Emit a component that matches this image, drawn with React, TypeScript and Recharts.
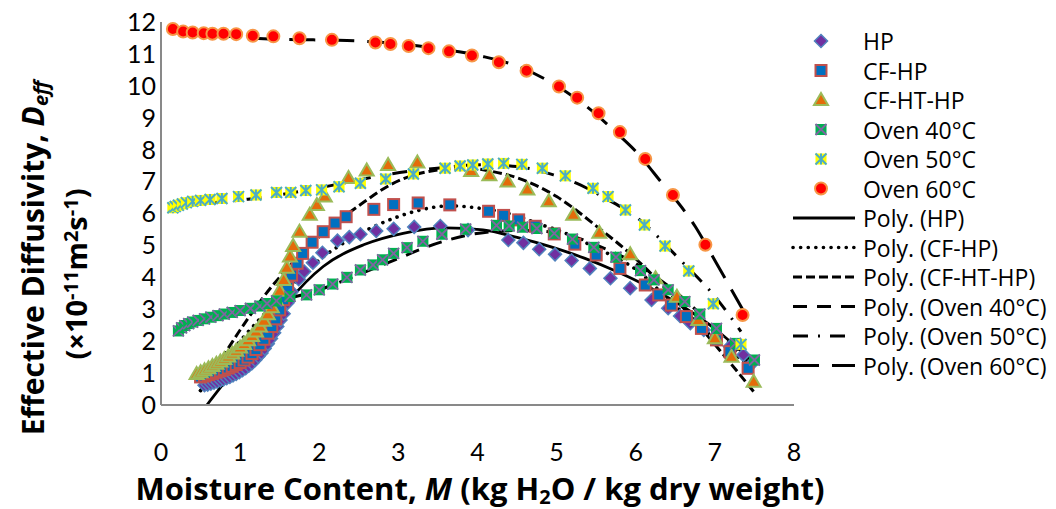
import React from 'react';
import { ComposedChart, Scatter, Line, XAxis, YAxis } from 'recharts';

const FONT = 'Lato, "Open Sans", sans-serif';
const TITLE_FONT = '"Open Sans", Lato, sans-serif';

const xTicks = [0, 1, 2, 3, 4, 5, 6, 7, 8];
const yTicks = [0, 1, 2, 3, 4, 5, 6, 7, 8, 9, 10, 11, 12];

// measured points [M, Deff]
const hpData = [
  [0.55, 0.62], [0.59, 0.64], [0.63, 0.67], [0.67, 0.7], [0.71, 0.73], [0.75, 0.77], [0.79, 0.8],
  [0.83, 0.84], [0.87, 0.88], [0.91, 0.93], [0.95, 0.97], [0.99, 1.03], [1.03, 1.09], [1.07, 1.15],
  [1.11, 1.23], [1.15, 1.31], [1.19, 1.41], [1.23, 1.52], [1.27, 1.63], [1.31, 1.77], [1.35, 1.92],
  [1.39, 2.08], [1.43, 2.26], [1.47, 2.46], [1.51, 2.66], [1.55, 2.86], [1.6, 3.2], [1.65, 3.55],
  [1.74, 3.94], [1.81, 4.18], [1.92, 4.46], [2.04, 4.77], [2.23, 5.15], [2.38, 5.26], [2.52, 5.35],
  [2.72, 5.45], [2.94, 5.52], [3.2, 5.58], [3.53, 5.61], [3.88, 5.48], [4.39, 5.17], [4.58, 5.08],
  [4.78, 4.88], [4.98, 4.72], [5.19, 4.53], [5.42, 4.28], [5.68, 3.97], [5.93, 3.66], [6.2, 3.29],
  [6.41, 3.03], [6.56, 2.79], [6.69, 2.56], [6.86, 2.35], [7.02, 2.14], [7.19, 1.83], [7.36, 1.57],
  [7.45, 1.25],
];
const cfhpData = [
  [0.5, 0.88], [0.55, 0.91], [0.6, 0.95], [0.65, 0.99], [0.7, 1.03], [0.75, 1.07], [0.8, 1.11],
  [0.85, 1.16], [0.9, 1.21], [0.95, 1.27], [1.0, 1.33], [1.05, 1.41], [1.1, 1.5], [1.15, 1.61],
  [1.2, 1.74], [1.25, 1.89], [1.3, 2.06], [1.35, 2.25], [1.4, 2.46], [1.45, 2.7], [1.5, 2.98],
  [1.55, 3.3], [1.6, 3.68], [1.65, 4.07], [1.72, 4.44], [1.79, 4.75], [1.91, 5.1], [2.05, 5.43],
  [2.2, 5.7], [2.34, 5.9], [2.69, 6.13], [2.94, 6.28], [3.25, 6.33], [3.65, 6.27], [4.14, 6.07],
  [4.33, 5.94], [4.52, 5.8], [4.73, 5.6], [4.97, 5.36], [5.23, 5.04], [5.5, 4.7], [5.8, 4.28],
  [6.12, 3.76], [6.29, 3.45], [6.45, 3.13], [6.64, 2.77], [6.83, 2.4], [7.02, 2.04], [7.19, 1.67],
  [7.42, 1.15],
];
const cfhthpData = [
  [0.45, 0.97], [0.5, 1.03], [0.55, 1.09], [0.6, 1.15], [0.65, 1.22], [0.7, 1.29], [0.75, 1.36],
  [0.8, 1.44], [0.85, 1.52], [0.9, 1.61], [0.95, 1.7], [1.0, 1.8], [1.05, 1.91], [1.1, 2.03],
  [1.15, 2.16], [1.2, 2.3], [1.25, 2.46], [1.3, 2.64], [1.35, 2.84], [1.4, 3.06], [1.45, 3.3],
  [1.5, 3.58], [1.55, 3.92], [1.59, 4.3], [1.63, 4.65], [1.67, 4.98], [1.75, 5.43], [1.88, 5.96],
  [1.97, 6.27], [2.07, 6.53], [2.37, 7.11], [2.6, 7.35], [2.87, 7.52], [3.24, 7.6], [3.92, 7.33],
  [4.15, 7.2], [4.38, 7.0], [4.63, 6.75], [4.9, 6.38], [5.21, 5.96], [5.54, 5.4], [5.93, 4.72],
  [6.25, 3.97], [6.52, 3.39], [6.79, 2.66], [7.0, 2.09], [7.21, 1.51], [7.49, 0.73],
];
const oven40Data = [
  [0.22, 2.32], [0.26, 2.42], [0.3, 2.49], [0.35, 2.55], [0.4, 2.6], [0.47, 2.65], [0.55, 2.7],
  [0.63, 2.75], [0.72, 2.8], [0.8, 2.85], [0.9, 2.9], [1.0, 2.96], [1.13, 3.03], [1.25, 3.1],
  [1.34, 3.18], [1.46, 3.26], [1.63, 3.4], [1.84, 3.45], [2.0, 3.61], [2.17, 3.79], [2.35, 4.0],
  [2.52, 4.23], [2.68, 4.39], [2.8, 4.55], [2.94, 4.75], [3.11, 4.93], [3.31, 5.13], [3.55, 5.35],
  [3.85, 5.51], [4.24, 5.63], [4.4, 5.61], [4.57, 5.57], [4.75, 5.53], [4.97, 5.38], [5.2, 5.2],
  [5.47, 4.94], [5.75, 4.63], [6.06, 4.21], [6.23, 3.92], [6.41, 3.61], [6.62, 3.24], [6.81, 2.85],
  [7.02, 2.4], [7.26, 1.93], [7.5, 1.41],
];
const oven50Data = [
  [0.15, 6.18], [0.18, 6.22], [0.22, 6.26], [0.27, 6.3], [0.32, 6.34], [0.4, 6.38], [0.5, 6.41],
  [0.62, 6.44], [0.77, 6.47], [0.98, 6.53], [1.2, 6.58], [1.46, 6.66], [1.64, 6.66], [1.83, 6.72],
  [2.03, 6.74], [2.25, 6.84], [2.52, 6.95], [2.84, 7.08], [3.19, 7.24], [3.59, 7.42], [3.78, 7.49],
  [3.94, 7.52], [4.13, 7.55], [4.33, 7.57], [4.56, 7.54], [4.82, 7.42], [5.11, 7.18], [5.46, 6.79],
  [5.65, 6.53], [5.87, 6.11], [6.11, 5.64], [6.37, 4.98], [6.67, 4.2], [6.98, 3.17], [7.33, 1.9],
];
const oven60Data = [
  [0.15, 11.78], [0.28, 11.7], [0.4, 11.67], [0.54, 11.65], [0.65, 11.63], [0.79, 11.63],
  [0.95, 11.62], [1.16, 11.57], [1.42, 11.55], [1.75, 11.49], [2.16, 11.44], [2.71, 11.36],
  [2.9, 11.31], [3.13, 11.25], [3.38, 11.18], [3.64, 11.08], [3.93, 10.95], [4.27, 10.74],
  [4.62, 10.47], [5.03, 9.98], [5.26, 9.63], [5.53, 9.14], [5.8, 8.55], [6.12, 7.71], [6.47, 6.58],
  [6.88, 5.02], [7.35, 2.82],
];

// trendlines
const polyHP = [
  [0.58, 0], [0.8, 0.7], [1.13, 1.67], [1.4, 2.5], [1.63, 3.29], [2.05, 4.34], [2.56, 5.02],
  [3.06, 5.38], [3.6, 5.55], [4.07, 5.49], [4.5, 5.25], [4.92, 4.96], [5.35, 4.6], [5.76, 4.18],
  [6.2, 3.65], [6.6, 3.08], [7.02, 2.35], [7.45, 1.41],
];
const polyCFHP = [
  [0.5, 0.45], [0.75, 1.25], [1.0, 2.0], [1.25, 2.7], [1.5, 3.35], [1.88, 4.3], [2.39, 5.2],
  [2.81, 5.72], [3.23, 6.08], [3.65, 6.24], [4.07, 6.15], [4.45, 5.96], [4.79, 5.66], [5.0, 5.49],
  [5.47, 4.96], [6.01, 4.23], [6.5, 3.1], [7.02, 2.04], [7.42, 1.25],
];
const polyCFHTHP = [
  [0.49, 0.42], [0.7, 1.2], [1.0, 2.35], [1.3, 3.4], [1.55, 4.15], [1.97, 5.2], [2.56, 6.35],
  [2.9, 6.9], [3.19, 7.2], [3.57, 7.38], [3.9, 7.42], [4.16, 7.33], [4.6, 7.03], [5.0, 6.53],
  [5.51, 5.59], [5.97, 4.65], [6.39, 3.61], [6.81, 2.45], [7.2, 1.3], [7.49, 0.42],
];
const polyOven40 = [
  [0.22, 2.35], [1.0, 2.98], [2.0, 3.61], [2.81, 4.4], [3.6, 5.15], [4.07, 5.4], [4.6, 5.47],
  [5.09, 5.36], [5.55, 4.96], [6.06, 4.34], [6.6, 3.34], [6.98, 2.45], [7.5, 1.15],
];
const polyOven50 = [
  [0.15, 6.25], [1.1, 6.45], [1.76, 6.69], [2.4, 7.0], [2.81, 7.2], [3.49, 7.42], [4.07, 7.53],
  [4.5, 7.47], [4.96, 7.21], [5.25, 6.95], [5.6, 6.5], [6.0, 5.9], [6.56, 4.55], [7.02, 3.34],
  [7.33, 2.3],
];
const polyOven60 = [
  [0.15, 11.78], [0.5, 11.65], [0.85, 11.55], [1.5, 11.46], [2.35, 11.42], [3.0, 11.32],
  [3.5, 11.17], [4.07, 10.92], [4.52, 10.6], [4.92, 10.12], [5.38, 9.35], [5.76, 8.52], [6.0, 7.95],
  [6.3, 7.05], [6.75, 5.6], [7.02, 4.44], [7.35, 3.0],
];

const toPts = (arr: number[][]) => arr.map(([x, y]) => ({ x, y }));

function Diamond({ cx, cy }: any) {
  const r = 6.5;
  return <polygon points={`${cx},${cy - r} ${cx + r},${cy} ${cx},${cy + r} ${cx - r},${cy}`} fill="#7030A0" stroke="#4F81BD" strokeWidth={1.5} />;
}
function Square({ cx, cy }: any) {
  return <rect x={cx - 5.5} y={cy - 5.5} width={11} height={11} fill="#0070C0" stroke="#C0504D" strokeWidth={2} />;
}
function Triangle({ cx, cy }: any) {
  return <polygon points={`${cx},${cy - 7} ${cx + 7},${cy + 5} ${cx - 7},${cy + 5}`} fill="#E46C0A" stroke="#9BBB59" strokeWidth={2} />;
}
function XSquare({ cx, cy }: any) {
  const r = 5.5;
  return (
    <g>
      <rect x={cx - r} y={cy - r} width={2 * r} height={2 * r} fill="#00B050" />
      <path d={`M${cx - r},${cy - r}L${cx + r},${cy + r}M${cx - r},${cy + r}L${cx + r},${cy - r}`} stroke="#8064A2" strokeWidth={1.8} />
    </g>
  );
}
function Star({ cx, cy }: any) {
  const r = 5.5;
  return (
    <g>
      <rect x={cx - r} y={cy - r} width={2 * r} height={2 * r} fill="#FFFF00" />
      <path d={`M${cx - r},${cy - r}L${cx + r},${cy + r}M${cx - r},${cy + r}L${cx + r},${cy - r}M${cx},${cy - r}L${cx},${cy + r}`} stroke="#4BACC6" strokeWidth={2} />
    </g>
  );
}
function Dot({ cx, cy }: any) {
  return <circle cx={cx} cy={cy} r={6} fill="#FF0000" stroke="#F79646" strokeWidth={2} />;
}

const series = [
  { name: 'HP', data: hpData, Mark: Diamond },
  { name: 'CF-HP', data: cfhpData, Mark: Square },
  { name: 'CF-HT-HP', data: cfhthpData, Mark: Triangle },
  { name: 'Oven 40°C', data: oven40Data, Mark: XSquare },
  { name: 'Oven 50°C', data: oven50Data, Mark: Star },
  { name: 'Oven 60°C', data: oven60Data, Mark: Dot },
];

const trends = [
  { name: 'Poly. (HP)', data: polyHP, dash: undefined, cap: 'butt', width: 2.8 },
  { name: 'Poly. (CF-HP)', data: polyCFHP, dash: '0.1 7.5', cap: 'round', width: 3.6 },
  { name: 'Poly. (CF-HT-HP)', data: polyCFHTHP, dash: '9 4', cap: 'butt', width: 3 },
  { name: 'Poly. (Oven 40°C)', data: polyOven40, dash: '14 10', cap: 'butt', width: 3 },
  { name: 'Poly. (Oven 50°C)', data: polyOven50, dash: '15 10 2 10', cap: 'butt', width: 3 },
  { name: 'Poly. (Oven 60°C)', data: polyOven60, dash: '26 13', cap: 'butt', width: 3 },
];

function LegendBox() {
  const rowY = (i: number) => 41 + i * 29.5;
  return (
    <svg width={276} height={400} style={{ position: 'absolute', left: 780, top: 0 }}>
      {series.map((s, i) => (
        <g key={s.name}>
          <s.Mark cx={41} cy={rowY(i)} />
          <text x={83} y={rowY(i)} dominantBaseline="central" fontSize={23} fontFamily={TITLE_FONT} fill="#000">{s.name}</text>
        </g>
      ))}
      {trends.map((t, j) => {
        const i = j + 6;
        return (
          <g key={t.name}>
            <line x1={13} x2={75} y1={rowY(i)} y2={rowY(i)} stroke="#000" strokeWidth={t.width} strokeDasharray={t.dash} strokeLinecap={t.cap as any} />
            <text x={83} y={rowY(i)} dominantBaseline="central" fontSize={23} fontFamily={TITLE_FONT} fill="#000">{t.name}</text>
          </g>
        );
      })}
    </svg>
  );
}

const titleStyle = { position: 'absolute' as const, whiteSpace: 'nowrap' as const, fontWeight: 700, lineHeight: 1, fontFamily: TITLE_FONT };
const subStyle = { fontSize: 20, lineHeight: 0, verticalAlign: '-0.2em' };
const supStyle = { fontSize: 20, lineHeight: 0, verticalAlign: '0.45em' };

export default function App() {
  return (
    <div style={{ position: 'absolute', left: 0, top: 0, width: 1056, height: 509, background: '#fff', fontFamily: FONT }}>
      <ComposedChart width={1056} height={509} margin={{ top: 22, right: 262, bottom: 0, left: 0 }}>
        <XAxis
          type="number"
          dataKey="x"
          domain={[0, 8]}
          ticks={xTicks}
          interval={0}
          height={104}
          axisLine={{ stroke: '#898989', strokeWidth: 2 }}
          tickLine={false}
          tickSize={0}
          tickMargin={38}
          tick={{ fill: '#000', fontSize: 25, fontFamily: FONT }}
        />
        <YAxis
          type="number"
          domain={[0, 12]}
          ticks={yTicks}
          interval={0}
          width={161}
          axisLine={{ stroke: '#898989', strokeWidth: 2 }}
          tickLine={false}
          tickSize={0}
          tickMargin={5}
          tick={{ fill: '#000', fontSize: 25, fontFamily: FONT }}
        />
        {series.map((s) => (
          <Scatter
            key={s.name}
            name={s.name}
            data={toPts(s.data)}
            dataKey="y"
            isAnimationActive={false}
            shape={(p: any) => <s.Mark cx={p.cx} cy={p.cy} />}
          />
        ))}
        {trends.map((t) => (
          <Line
            key={t.name}
            name={t.name}
            data={toPts(t.data)}
            dataKey="y"
            type="monotone"
            stroke="#000"
            strokeWidth={t.width}
            strokeDasharray={t.dash}
            strokeLinecap={t.cap as any}
            dot={false}
            activeDot={false}
            isAnimationActive={false}
          />
        ))}
      </ComposedChart>

      <LegendBox />

      <div style={{ ...titleStyle, left: 33, top: 258, fontSize: 30, transform: 'translate(-50%, -50%) rotate(-90deg)' }}>
        Effective Diffusivity, <i>D</i><span style={subStyle}><i>eff</i></span>
      </div>
      <div style={{ ...titleStyle, left: 75, top: 274, fontSize: 29, transform: 'translate(-50%, -50%) rotate(-90deg)' }}>
        (×10<span style={supStyle}>-11</span>m<span style={supStyle}>2</span>s<span style={supStyle}>-1</span>)
      </div>
      <div style={{ ...titleStyle, left: 480, top: 488, fontSize: 31, transform: 'translate(-50%, -50%)' }}>
        Moisture Content, <i>M</i> (kg H<span style={subStyle}>2</span>O / kg dry weight)
      </div>
    </div>
  );
}
